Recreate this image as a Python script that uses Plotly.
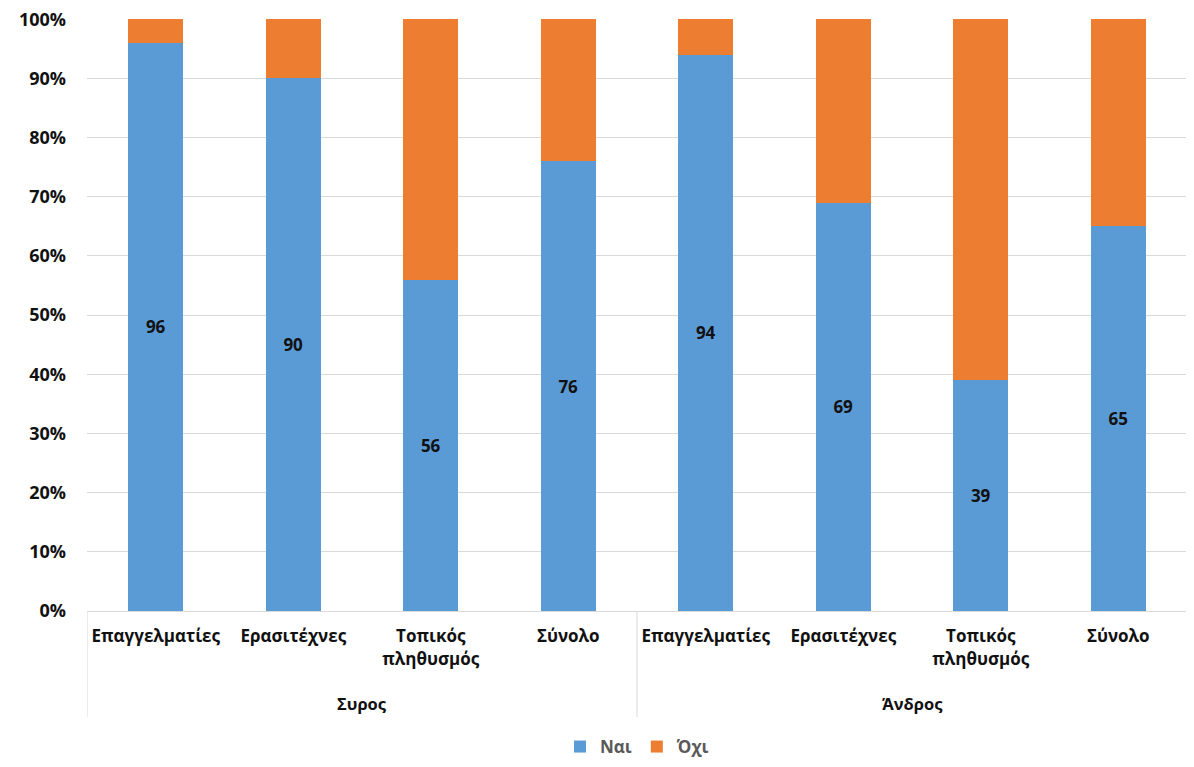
import plotly.graph_objects as go

group_names = ["Συρος", "Άνδρος"]
categories = ["Επαγγελματίες", "Ερασιτέχνες", "Τοπικός<br>πληθυσμός", "Σύνολο",
              "Επαγγελματίες", "Ερασιτέχνες", "Τοπικός<br>πληθυσμός", "Σύνολο"]
nai = [96, 90, 56, 76, 94, 69, 39, 65]
oxi = [100 - v for v in nai]
series_names = ["Ναι", "Όχι"]
colors = ["#5B9BD5", "#ED7D31"]
y_ticks = [0, 10, 20, 30, 40, 50, 60, 70, 80, 90, 100]

x_pos = list(range(len(categories)))
n_per_group = len(categories) // len(group_names)

# page body has an 8px margin, so the figure is a bit smaller than the window
W, H = 1186, 759
M_L, M_R, M_T, M_B = 79, 7, 11, 156

fig = go.Figure()
fig.add_trace(go.Bar(
    x=x_pos, y=nai, name=series_names[0], marker=dict(color=colors[0], line=dict(width=0)),
    texttemplate="%{y:.0f}", textposition="inside", insidetextanchor="middle",
    textfont=dict(family="Open Sans", size=17, color="#111111", weight="bold"),
    textangle=0,
))
fig.add_trace(go.Bar(
    x=x_pos, y=oxi, name=series_names[1], marker=dict(color=colors[1], line=dict(width=0)),
    textposition="none",
))

PLOT_H = H - M_T - M_B
div_bottom = -(717 - 611) / PLOT_H
grp_y = -(703 - 611) / PLOT_H

shapes = []
for b in [-0.5 + i * n_per_group for i in range(len(group_names) + 1)]:
    shapes.append(dict(type="line", xref="x", yref="paper", x0=b, x1=b, y0=0, y1=div_bottom,
                       line=dict(color="#D9D9D9", width=1)))

annotations = []
for gi, g in enumerate(group_names):
    annotations.append(dict(
        x=gi * n_per_group + (n_per_group - 1) / 2, xref="x", y=grp_y, yref="paper",
        text=g, showarrow=False, xanchor="center", yanchor="middle",
        font=dict(family="Open Sans", size=16.5, color="#111111", weight="bold"),
    ))

fig.update_layout(
    barmode="stack",
    bargap=0.6,
    width=W, height=H,
    margin=dict(l=M_L, r=M_R, t=M_T, b=M_B, autoexpand=False),
    plot_bgcolor="white", paper_bgcolor="white",
    font=dict(family="Open Sans", color="#111111"),
    legend=dict(
        orientation="h", x=0.5, xanchor="center", yref="container", y=20 / H, yanchor="middle",
        font=dict(family="Open Sans", size=17, color="#595959", weight="bold"),
        itemwidth=30, traceorder="normal",
    ),
    showlegend=True,
    shapes=shapes,
    annotations=annotations,
)
fig.update_yaxes(
    range=[0, 100.05], tickmode="array", tickvals=y_ticks, ticktext=[f"{v}%" for v in y_ticks],
    showgrid=True, gridcolor="#D9D9D9", gridwidth=1,
    zeroline=False, showline=False, ticks="", ticklabelstandoff=20, automargin=False,
    ticklabeloverflow="allow",
    tickfont=dict(family="Open Sans", size=18, color="#111111", weight="bold"),
)
fig.update_xaxes(
    range=[-0.5, len(categories) - 0.5], tickmode="array", tickvals=x_pos, ticktext=categories,
    showline=True, linecolor="#D9D9D9", linewidth=1, showgrid=False, automargin=False,
    tickfont=dict(family="Open Sans", size=17, color="#111111", weight="bold"),
    ticks="", ticklabelstandoff=10,
)

fig.write_html("out.html")
